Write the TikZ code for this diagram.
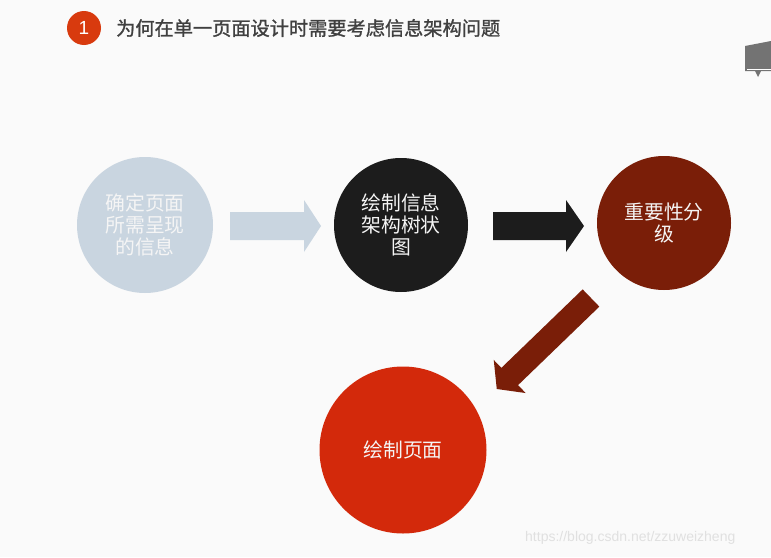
\documentclass[tikz,border=0pt]{standalone}
\usepackage{fontspec}
\setmainfont{Liberation Sans}
\newfontfamily\cjk{Noto Sans CJK SC}
\newfontfamily\cjkb[FakeBold=1.2]{Noto Sans CJK SC}
\definecolor{bgc}{HTML}{FAFAFA}
\definecolor{blueg}{HTML}{C9D5E0}
\definecolor{blk}{HTML}{1C1C1C}
\definecolor{dred}{HTML}{7A1E08}
\definecolor{red}{HTML}{D3290B}
\definecolor{tred}{HTML}{D83A0E}
\definecolor{ttl}{HTML}{404040}
\tikzset{
  circ/.style={circle, minimum size=#1, inner sep=0pt, font=\cjk\fontsize{19.8}{22}\selectfont, text=white!96!black, align=center},
}
\begin{document}
\begin{tikzpicture}[x=1pt,y=-1pt]
\fill[bgc] (0,0) rectangle (771,557);
\useasboundingbox (0,0) rectangle (771,557);
% title
\node[circle, fill=tred, minimum size=34pt, inner sep=0pt, text=white, font=\fontsize{19}{20}\selectfont] (num) at (84,28) {1};
\node[anchor=west, text=ttl, font=\cjkb\fontsize{19.2}{20}\selectfont, inner sep=0pt] (title) at (116,28) {为何在单一页面设计时需要考虑信息架构问题};
% corner icon
\fill[black!55] (745,46) -- (771,41) -- (771,71) -- (761,71) -- (758,77) -- (755,71) -- (745,71) -- cycle;
\draw[white, line width=0.8pt] (747,69) -- (771,69);
% circles
\node[circ=136pt, fill=blueg] (c1) at (145,225) {确定页面\\所需呈现\\的信息};
\node[circ=134pt, fill=blk] (c2) at (401,225) {绘制信息\\架构树状\\图};
\node[circ=134pt, fill=dred] (c3) at (664,223) {重要性分\\级};
\node[circ=167pt, fill=red] (c4) at (403,450) {绘制页面};
% arrows
\fill[blueg] (230,212) -- (304,212) -- (304,200) -- (321,226) -- (304,252) -- (304,240) -- (230,240) -- cycle;
\fill[blk] (493,212) -- (566,212) -- (566,200) -- (584,226) -- (566,252) -- (566,240) -- (493,240) -- cycle;
\begin{scope}[shift={(591,298)}, rotate=-136]
\fill[dred] (0,-12) -- (113,-12) -- (113,-23) -- (131,0) -- (113,23) -- (113,12) -- (0,12) -- cycle;
\end{scope}
% watermark
\node[anchor=west, text=black!12, font=\fontsize{14}{16}\selectfont, inner sep=0pt] (wm) at (525,538) {https://blog.csdn.net/zzuweizheng};
\end{tikzpicture}
\end{document}
